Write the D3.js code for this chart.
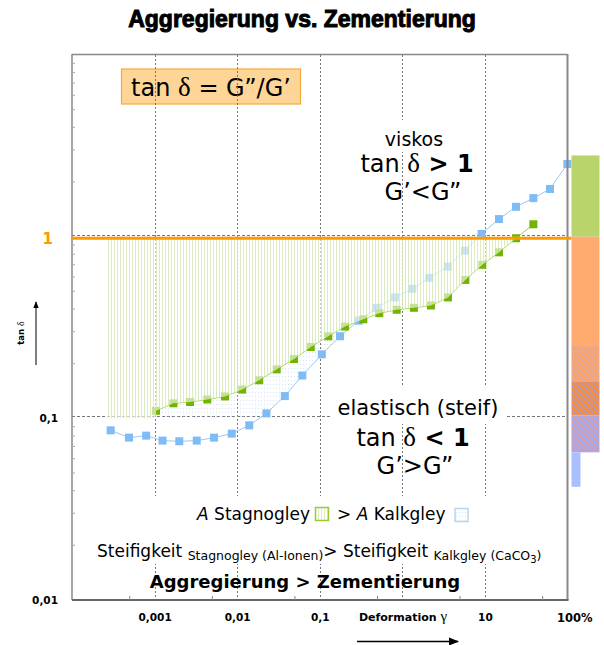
<!DOCTYPE html>
<html><head><meta charset="utf-8">
<script src="https://cdn.jsdelivr.net/npm/d3@7"></script>
<style>body{margin:0;background:#fff}svg{display:block}</style>
</head><body>
<svg id="chart" width="604" height="645"></svg>
<script>
// Strain amplitude (%) and loss factor tan δ, Kalkgley
const strainKalk = [0.000294,0.00049,0.00079,0.00125,0.00199,0.00324,0.00525,0.0086,0.014,0.0226,0.0378,0.0615,0.106,0.176,0.296,0.49,0.815,1.32,2.12,3.55,5.74,9.1,14.8,23.8,38.6,61.4,99.5];
const tanKalk    = [0.0859,0.0783,0.0803,0.0754,0.0748,0.0754,0.0783,0.0824,0.0915,0.1065,0.1326,0.172,0.225,0.283,0.345,0.406,0.463,0.516,0.593,0.684,0.837,1.035,1.25,1.46,1.63,1.83,2.51];
// Strain amplitude (%) and loss factor tan δ, Stagnogley
const strainStag = [0.00104,0.00169,0.00269,0.00435,0.00713,0.0115,0.0185,0.0301,0.0488,0.0778,0.127,0.202,0.337,0.526,0.855,1.38,2.22,3.57,5.79,9.3,14.8,23.8,38.6];
const tanStag    = [0.110,0.121,0.123,0.127,0.132,0.144,0.162,0.186,0.212,0.247,0.283,0.320,0.351,0.379,0.396,0.406,0.418,0.463,0.578,0.700,0.820,0.980,1.17];

const xTickValues = [0.001,0.01,0.1,10,100];
const xTickLabels = ["0,001","0,01","0,1","10","100%"];
const xGridValues = [0.001,0.01,0.1,1,10];
const xMinorValues = [0.0005,0.005,0.05,0.5,5,50];
const yTickValues = [0.01,0.1,1];
const yTickLabels = ["0,01","0,1","1"];
const yGridValues = [0.1,1];

// shaded areas between tan δ = 1 and each curve (floored at 0.1)
const areaStart = 0.00026, areaFloor = 0.1, areaCeil = 1;

// side scale bar: band edges in tan δ
const sideBandEdges = [2.8,1,0.25,0.16,0.104,0.065,0.042];

const svg = d3.select("#chart");
const W = 604, H = 645;
const x = d3.scaleLog().domain([1e-4,100]).range([72,567.5]);
const y = d3.scaleLog().domain([0.01,10]).range([600,55]);
const X0 = x.range()[0], X1 = x.range()[1], Y0 = y.range()[0], Y1 = y.range()[1];

const defs = svg.append("defs");
// vertical hatch (Stagnogley)
const ph = defs.append("pattern").attr("id","hatch").attr("patternUnits","userSpaceOnUse").attr("width",3).attr("height",4);
ph.append("rect").attr("width",3).attr("height",4).attr("fill","rgba(255,255,255,0.6)");
ph.append("rect").attr("width",1).attr("height",4).attr("fill","rgba(195,222,140,0.55)");
// dotted fill (Kalkgley)
const pd = defs.append("pattern").attr("id","dots").attr("patternUnits","userSpaceOnUse").attr("width",3).attr("height",4);
pd.append("rect").attr("width",1).attr("height",1).attr("fill","rgba(160,192,232,0.45)");
// dithered bands for side bar (one accent pixel per row in a 3x3 tile)
function dither(id, bg, fg){
  const p = defs.append("pattern").attr("id",id).attr("patternUnits","userSpaceOnUse").attr("width",3).attr("height",3);
  p.append("rect").attr("width",3).attr("height",3).attr("fill",bg);
  [0,1,2].forEach(k=>p.append("rect").attr("x",k).attr("y",k).attr("width",1).attr("height",1).attr("fill",fg));
}
dither("mixA","#fca86c","#d8a0a0");
dither("mixB","#f48a40","#b0a0c8");
dither("mixC","#a8aaf0","#e09890");
const sideFills = ["#b9d46b","#ffab6f","url(#mixA)","url(#mixB)","url(#mixC)","#aabfff"];

// title
svg.append("text").attr("x",W/2).attr("y",27).attr("text-anchor","middle")
  .attr("font-family","Liberation Sans").attr("font-weight","bold").attr("font-size",23)
  .attr("stroke","#000").attr("stroke-width",1).attr("fill","#000")
  .text("Aggregierung vs. Zementierung");

// formula box
const fb = svg.append("g");
fb.append("rect").attr("x",121.5).attr("y",69).attr("width",179).attr("height",35)
  .attr("fill","#fdd597").attr("stroke","#f9a93a").attr("stroke-width",1.2);
const ft = fb.append("text").attr("x",211).attr("y",96).attr("text-anchor","middle")
  .attr("font-family","DejaVu Sans").attr("font-size",24).attr("fill","#000");
ft.append("tspan").text("tan ");
ft.append("tspan").attr("font-family","Liberation Serif").attr("font-size",27).text("δ");
ft.append("tspan").text(" = G\u201D/G\u2019");

// grid
const grid = svg.append("g").attr("stroke","#777").attr("stroke-width",1).attr("fill","none");
grid.selectAll("line.v").data(xGridValues).join("line").attr("class","v")
  .attr("x1",d=>Math.round(x(d))+0.5).attr("x2",d=>Math.round(x(d))+0.5).attr("y1",Y1).attr("y2",Y0)
  .attr("stroke-dasharray","2,2");
grid.selectAll("line.h").data(yGridValues).join("line").attr("class","h")
  .attr("x1",X0).attr("x2",X1).attr("y1",d=>Math.round(y(d))-1.5).attr("y2",d=>Math.round(y(d))-1.5)
  .attr("stroke-dasharray","3,2");

// white backing behind some annotations
const masks = svg.append("g").attr("fill","#fff");
masks.append("rect").attr("x",380).attr("y",120).attr("width",68).attr("height",32);
masks.append("rect").attr("x",330).attr("y",386).attr("width",176).attr("height",38);
masks.append("rect").attr("x",92).attr("y",496).attr("width",470).attr("height",68);

// shaded areas
function areaPoints(xs, ys){
  const pts = [[areaStart, areaFloor]];
  if (xs[0] > areaStart && ys[0] > areaFloor) pts.push([xs[0], areaFloor]);
  xs.forEach((v,i)=>pts.push([v, Math.min(Math.max(ys[i], areaFloor), areaCeil)]));
  return pts;
}
const area = d3.area().x(d=>x(d[0])).y0(y(areaCeil)).y1(d=>y(d[1]));
svg.append("path").attr("d",area(areaPoints(strainKalk,tanKalk))).attr("fill","url(#dots)");

// series
const line = d3.line().x(d=>x(d[0])).y(d=>y(d[1]));
const kalk = strainKalk.map((v,i)=>[v,tanKalk[i]]);
const stag = strainStag.map((v,i)=>[v,tanStag[i]]);
svg.append("path").attr("d",line(kalk)).attr("fill","none").attr("stroke","#9cc8f4").attr("stroke-width",1);
svg.append("path").attr("d",line(stag)).attr("fill","none").attr("stroke","#9ccc3c").attr("stroke-width",1);
const ms = 8;
svg.append("g").selectAll("rect").data(kalk).join("rect")
  .attr("x",d=>x(d[0])-ms/2).attr("y",d=>y(d[1])-ms/2).attr("width",ms).attr("height",ms).attr("fill","#7fbcf6");
svg.append("g").selectAll("rect").data(stag).join("rect")
  .attr("x",d=>x(d[0])-ms/2).attr("y",d=>y(d[1])-ms/2).attr("width",ms).attr("height",ms).attr("fill","#72b400");

svg.append("path").attr("d",area(areaPoints(strainStag,tanStag))).attr("fill","url(#hatch)");

// frame
const frame = svg.append("g").attr("fill","none");
frame.append("line").attr("x1",X0).attr("x2",X1).attr("y1",Y1-0.5).attr("y2",Y1-0.5).attr("stroke","#888").attr("stroke-width",1.5);
frame.append("line").attr("x1",X1).attr("x2",X1).attr("y1",Y1-1).attr("y2",Y0).attr("stroke","#888").attr("stroke-width",2);
frame.append("line").attr("x1",X0).attr("x2",X0).attr("y1",Y1-1).attr("y2",Y0).attr("stroke","#888").attr("stroke-width",1.5);
frame.append("line").attr("x1",X0).attr("x2",X1+1).attr("y1",Y0).attr("y2",Y0).attr("stroke","#666").attr("stroke-width",2);

// minor ticks
const yMinor = [];
[0.01,0.1,1].forEach(dec=>{for(let k=2;k<=9;k++) yMinor.push(dec*k);});
svg.append("g").selectAll("line").data(yMinor).join("line")
  .attr("x1",X0).attr("x2",X0+3).attr("y1",d=>y(d)).attr("y2",d=>y(d)).attr("stroke","#aaa");
svg.append("g").selectAll("line").data(xMinorValues).join("line")
  .attr("x1",d=>x(d)).attr("x2",d=>x(d)).attr("y1",Y0).attr("y2",Y0-4).attr("stroke","#888");

// tan δ = 1 reference line
svg.append("line").attr("x1",X0).attr("x2",X1+4).attr("y1",y(1)+1.5).attr("y2",y(1)+1.5)
  .attr("stroke","#ff9900").attr("stroke-width",3);

// side scale bar
const sb = svg.append("g");
sideBandEdges.slice(0,-1).forEach((top,i)=>{
  const bot = sideBandEdges[i+1];
  const narrow = i === sideBandEdges.length-2;
  sb.append("rect").attr("x",X1+4).attr("y",y(top)).attr("width",narrow?9:28)
    .attr("height",y(bot)-y(top)).attr("fill",sideFills[i]);
});

// axes
const xAxis = svg.append("g").attr("transform",`translate(0,${Y0})`)
  .call(d3.axisBottom(x).tickValues(xTickValues).tickFormat((d,i)=>xTickLabels[i]).tickSize(0).tickPadding(14));
xAxis.select(".domain").remove();
xAxis.selectAll("text").attr("font-family","DejaVu Sans").attr("font-weight","bold").attr("font-size",10.5).attr("fill","#000");
xAxis.selectAll(".tick").filter(d=>d===100).select("text").attr("text-anchor","start").attr("dx",-11).attr("font-size",11.5);

const yAxis = svg.append("g").attr("transform",`translate(${X0},0)`)
  .call(d3.axisLeft(y).tickValues(yTickValues).tickFormat((d,i)=>yTickLabels[i]).tickSize(0).tickPadding(14));
yAxis.select(".domain").remove();
yAxis.selectAll("text").attr("font-family","DejaVu Sans").attr("font-weight","bold").attr("font-size",10.5).attr("fill","#000");
yAxis.selectAll(".tick").filter(d=>d===1).select("text")
  .attr("fill","#ff9900").attr("font-size",15).attr("x",-19).attr("dy","0.45em");

// axis titles
const xt = svg.append("text").attr("x",403).attr("y",621).attr("text-anchor","middle")
  .attr("font-family","DejaVu Sans").attr("font-weight","bold").attr("font-size",11).attr("fill","#000");
xt.append("tspan").text("Deformation ");
xt.append("tspan").attr("font-family","Liberation Serif").attr("font-weight","normal").attr("font-size",15).text("γ");
defs.append("marker").attr("id","arr").attr("viewBox","0 0 10 10").attr("refX",9).attr("refY",5)
  .attr("markerWidth",7).attr("markerHeight",7).attr("orient","auto")
  .append("path").attr("d","M0,1 L10,5 L0,9 Z").attr("fill","#000");
svg.append("line").attr("x1",357).attr("x2",458).attr("y1",641.5).attr("y2",641.5)
  .attr("stroke","#000").attr("stroke-width",1.5).attr("marker-end","url(#arr)");

const yt = svg.append("text").attr("transform","translate(24,333) rotate(-90)").attr("text-anchor","middle")
  .attr("font-family","DejaVu Sans").attr("font-weight","bold").attr("font-size",8.5).attr("fill","#000");
yt.append("tspan").text("tan ");
yt.append("tspan").attr("font-family","Liberation Serif").attr("font-weight","normal").attr("font-size",10).text("δ");
svg.append("line").attr("x1",36).attr("x2",36).attr("y1",365).attr("y2",302)
  .attr("stroke","#000").attr("stroke-width",1).attr("marker-end","url(#arr)");

// annotations
function ann(xc, yb, size){
  return svg.append("text").attr("x",xc).attr("y",yb).attr("text-anchor","middle")
    .attr("font-family","DejaVu Sans").attr("font-size",size).attr("fill","#000");
}
ann(414,146,19).text("viskos");
let t = ann(417,172,24);
t.append("tspan").text("tan ");
t.append("tspan").attr("font-family","Liberation Serif").attr("font-size",27).text("δ");
t.append("tspan").attr("font-weight","bold").text(" > 1");
ann(423,200,24).text("G\u2019<G\u201D");

ann(418,415,21).text("elastisch (steif)");
t = ann(413,446,24);
t.append("tspan").text("tan ");
t.append("tspan").attr("font-family","Liberation Serif").attr("font-size",27).text("δ");
t.append("tspan").attr("font-weight","bold").text(" < 1");
ann(415,474,24).text("G\u2019>G\u201D");

// legend row
const l1 = svg.append("text").attr("x",310).attr("y",520).attr("text-anchor","end")
  .attr("font-family","DejaVu Sans").attr("font-size",17).attr("fill","#000");
l1.append("tspan").attr("font-style","italic").text("A");
l1.append("tspan").text(" Stagnogley");
svg.append("rect").attr("x",315.5).attr("y",507.5).attr("width",13).attr("height",13)
  .attr("fill","url(#hatch)").attr("stroke","#9acb2c").attr("stroke-width",1.5);
const l2 = svg.append("text").attr("x",337).attr("y",520)
  .attr("font-family","DejaVu Sans").attr("font-size",17).attr("fill","#000");
l2.append("tspan").text("> ");
l2.append("tspan").attr("font-style","italic").text("A");
l2.append("tspan").text(" Kalkgley");
const l2end = 337 + l2.node().getComputedTextLength();
svg.append("rect").attr("x",l2end+9.5).attr("y",508.5).attr("width",13).attr("height",13)
  .attr("fill","url(#dots)").attr("stroke","#b8d4f2").attr("stroke-width",1.5);

const l3 = svg.append("text").attr("x",97).attr("y",557)
  .attr("font-family","DejaVu Sans").attr("font-size",17).attr("fill","#000");
l3.append("tspan").text("Steifigkeit ");
l3.append("tspan").attr("font-size",12.5).attr("dy",3).text("Stagnogley (Al-Ionen)");
l3.append("tspan").attr("dy",-3).text("> Steifigkeit ");
l3.append("tspan").attr("font-size",12.5).attr("dy",3).text("Kalkgley (CaCO");
l3.append("tspan").attr("font-size",10).attr("dy",3).text("3");
l3.append("tspan").attr("font-size",12.5).attr("dy",-3).text(")");

svg.append("text").attr("x",305).attr("y",588).attr("text-anchor","middle")
  .attr("font-family","DejaVu Sans").attr("font-weight","bold").attr("font-size",18).attr("fill","#000")
  .text("Aggregierung > Zementierung");
</script>
</body></html>
